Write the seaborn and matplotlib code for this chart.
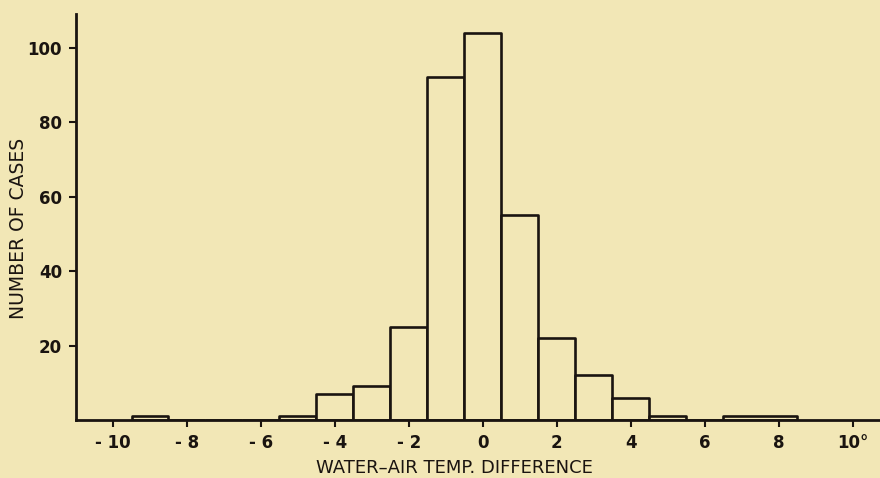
import matplotlib
matplotlib.use("Agg")
import matplotlib.pyplot as plt
import seaborn as sns

# bin centres (deg) and number of cases
# (the 6.5 to 8.5 class is drawn as one wide box in the original)
temp_diff = [-9, -5, -4, -3, -2, -1, 0, 1, 2, 3, 4, 5, 7.5]
n_cases = [1, 1, 7, 9, 25, 92, 104, 55, 22, 12, 6, 1, 1]
bin_edges = [e - 0.5 for e in range(-9, 8)] + [8.5]

x_ticks = [-10, -8, -6, -4, -2, 0, 2, 4, 6, 8, 10]
x_tick_labels = ["- 10", "- 8", "- 6", "- 4", "- 2", "0", "2", "4", "6", "8", "10°"]
y_ticks = [20, 40, 60, 80, 100]

paper = "#f2e7b6"
ink = "#1a1410"

sns.set_style("ticks")
plt.rcParams["font.family"] = ["DejaVu Sans"]

fig = plt.figure(figsize=(8.8, 4.78), dpi=100, facecolor=paper)
ax = fig.add_axes([0.0864, 0.1213, 0.912, 0.8494])
ax.set_facecolor(paper)

sns.histplot(x=temp_diff, weights=n_cases, bins=bin_edges, ax=ax,
             color=paper, edgecolor=ink, linewidth=1.9, alpha=1)
for p in ax.patches:
    p.set_joinstyle("round")

ax.set_xlim(-11.0, 10.7)
ax.set_ylim(0, 109)
ax.set_xticks(x_ticks)
ax.set_xticklabels(x_tick_labels, fontsize=12, fontweight="bold", color=ink)
ax.set_yticks(y_ticks)
ax.set_yticklabels([str(v) for v in y_ticks], fontsize=12, fontweight="bold", color=ink)
ax.tick_params(direction="out", length=5, width=1.5, color=ink, pad=5)

for side in ["top", "right"]:
    ax.spines[side].set_visible(False)
for side in ["left", "bottom"]:
    ax.spines[side].set_color(ink)
    ax.spines[side].set_linewidth(2)

ax.set_xlabel("WATER\u2013AIR TEMP. DIFFERENCE", fontsize=13, color=ink)
ax.xaxis.set_label_coords(0.471, -0.097)
ax.set_ylabel("NUMBER OF CASES", fontsize=13.5, color=ink)
ax.yaxis.set_label_coords(-0.060, 0.473)

fig.savefig("out.png", dpi=100, facecolor=paper)
